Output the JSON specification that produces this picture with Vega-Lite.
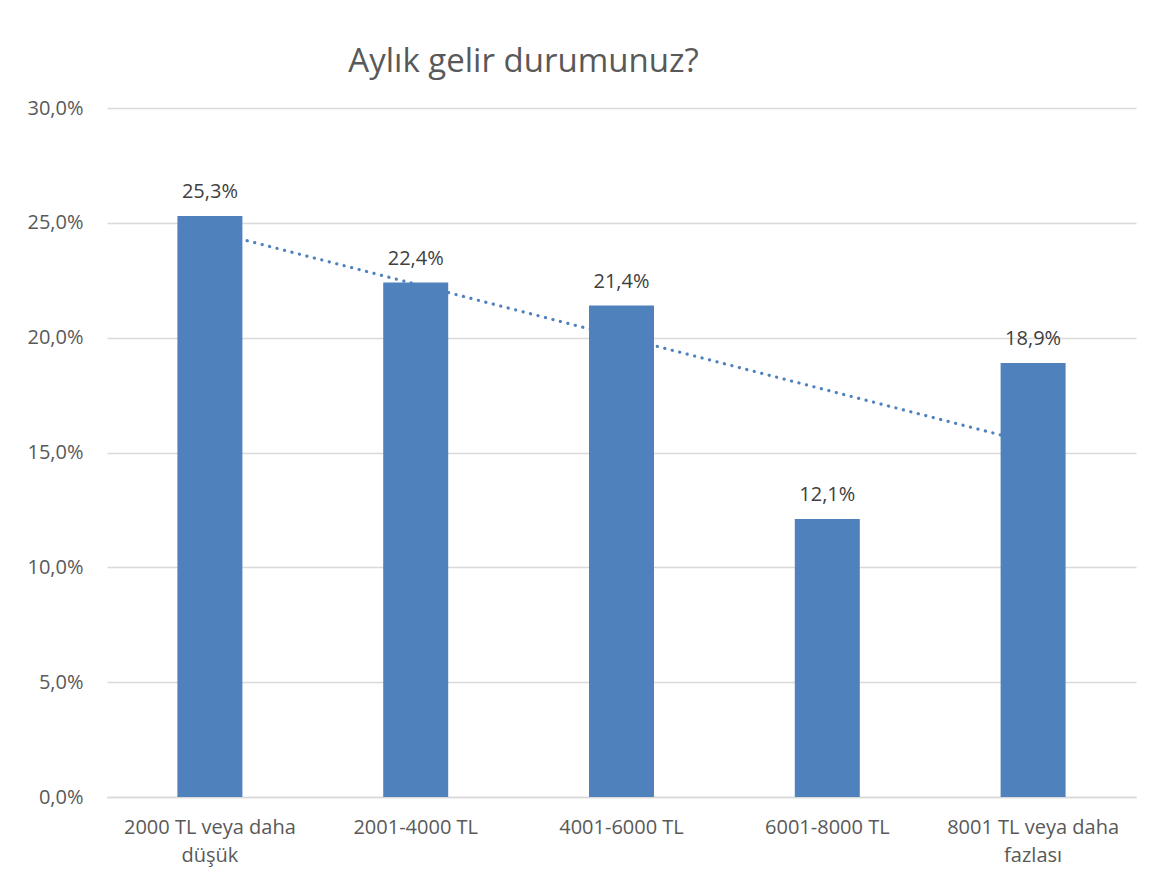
{
  "$schema": "https://vega.github.io/schema/vega-lite/v6.json",
  "autosize": "none",
  "width": 1029,
  "height": 689,
  "padding": {"left": 107, "top": 108, "right": 29, "bottom": 89},
  "background": "white",
  "datasets": {
    "income": [
      {"idx": 1, "cat": "2000 TL veya daha düşük", "value": 0.253},
      {"idx": 2, "cat": "2001-4000 TL", "value": 0.224},
      {"idx": 3, "cat": "4001-6000 TL", "value": 0.214},
      {"idx": 4, "cat": "6001-8000 TL", "value": 0.121},
      {"idx": 5, "cat": "8001 TL veya daha fazlası", "value": 0.189}
    ]
  },
  "data": {"name": "income"},
  "title": {
    "text": "Aylık gelir durumunuz?",
    "anchor": "middle",
    "dx": -98,
    "offset": 19,
    "fontSize": 33,
    "font": "Open Sans",
    "fontWeight": "normal",
    "color": "#595959"
  },
  "config": {
    "locale": {"number": {"decimal": ",", "thousands": ".", "grouping": [3], "currency": ["", " TL"]}},
    "view": {"stroke": null},
    "font": "Open Sans"
  },
  "layer": [
    {
      "transform": [
        {"regression": "value", "on": "idx"},
        {"lookup": "idx", "from": {"data": {"name": "income"}, "key": "idx", "fields": ["cat"]}}
      ],
      "mark": {"type": "line", "color": "#4F81BD", "strokeWidth": 3.2, "strokeDash": [0.1, 7.6], "strokeCap": "round"},
      "encoding": {
        "x": {"field": "cat", "type": "nominal", "sort": ["2000 TL veya daha düşük", "2001-4000 TL", "4001-6000 TL", "6001-8000 TL", "8001 TL veya daha fazlası"]},
        "y": {"field": "value", "type": "quantitative"}
      }
    },
    {
      "mark": {"type": "bar", "color": "#4F81BD", "width": 65},
      "encoding": {
        "x": {
          "field": "cat", "type": "nominal",
          "sort": ["2000 TL veya daha düşük", "2001-4000 TL", "4001-6000 TL", "6001-8000 TL", "8001 TL veya daha fazlası"],
          "title": null,
          "axis": {
            "labelAngle": 0,
            "labelAlign": "center",
            "labelBaseline": "top",
            "labelExpr": "split(replace(datum.label, ' daha ', ' daha|'), '|')",
            "labelFontSize": 20,
            "labelColor": "#595959",
            "labelLineHeight": 28,
            "labelPadding": 20,
            "ticks": false,
            "domainColor": "#D9D9D9",
            "domainWidth": 1.5,
            "labelFont": "Open Sans"
          }
        },
        "y": {
          "field": "value", "type": "quantitative", "title": null,
          "scale": {"domain": [0, 0.3]},
          "axis": {
            "format": ".1%",
            "values": [0, 0.05, 0.1, 0.15, 0.2, 0.25, 0.3],
            "labelFontSize": 20,
            "labelColor": "#595959",
            "labelPadding": 24,
            "ticks": false,
            "domain": false,
            "gridColor": "#D9D9D9",
            "gridWidth": 1.5,
            "labelFont": "Open Sans"
          }
        }
      }
    },
    {
      "mark": {"type": "text", "baseline": "alphabetic", "dy": -18, "fontSize": 20, "color": "#404040", "font": "Open Sans"},
      "encoding": {
        "x": {"field": "cat", "type": "nominal", "sort": ["2000 TL veya daha düşük", "2001-4000 TL", "4001-6000 TL", "6001-8000 TL", "8001 TL veya daha fazlası"]},
        "y": {"field": "value", "type": "quantitative"},
        "text": {"field": "value", "type": "quantitative", "format": ".1%"}
      }
    }
  ]
}
